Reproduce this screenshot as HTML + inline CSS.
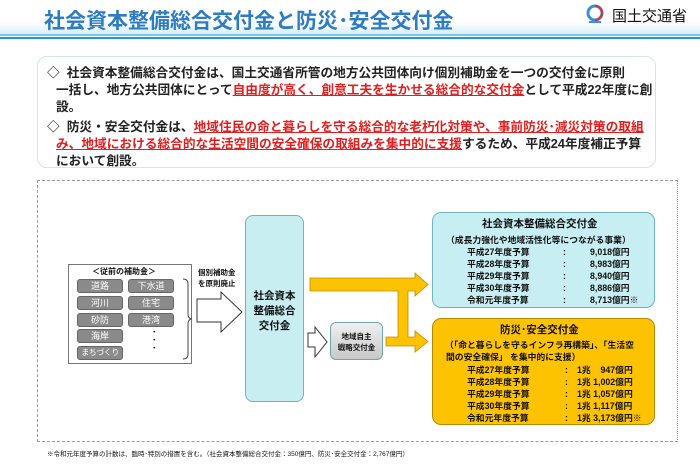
<!DOCTYPE html>
<html><head><meta charset="utf-8"><style>
*{margin:0;padding:0;box-sizing:border-box}
body{width:700px;height:465px;background:#fff;position:relative;overflow:hidden;font-family:"Liberation Sans","Noto Sans CJK JP",sans-serif;color:#111}
.a{position:absolute}
.band{left:0;top:22px;width:700px;height:12px;background:linear-gradient(#fff,#d6eef8)}
.l1{left:0;top:34px;width:700px;height:2px;background:#7cc6e6}
.l2{left:0;top:37px;width:700px;height:2px;background:#1a9ad6}
.title{left:44px;top:5px;font-size:21px;font-weight:bold;color:#2e7cc2;white-space:nowrap}
.logo{left:612px;top:5px;font-size:15px;white-space:nowrap}
.tb{left:37px;top:56px;width:619px;height:112px;border:1.5px solid #cfe6ee;border-radius:10px}
.tx{font-size:12.7px;line-height:17px;white-space:nowrap;font-weight:bold;color:#222}
.r{color:#e02020;text-decoration:underline}
.dash{left:37px;top:180px;width:641px;height:262px;border:1.5px dashed #999;border-right-style:dotted}
.old{left:68px;top:264px;width:124px;height:100px;border:1px solid #777;background:#fff}
.g{position:absolute;width:46px;height:14px;background:#8a8a8a;border:1px solid #666;border-radius:3px;color:#fff;font-size:9px;text-align:center;line-height:12px;white-space:nowrap;overflow:hidden}
.big{left:245px;top:215px;width:59px;height:187px;background:#c8eef2;border:1.5px solid #6fb3bd;border-radius:8px;font-size:10.5px;font-weight:bold;text-align:center;padding-top:73px;line-height:15px}
.loc{left:330px;top:322px;width:53px;height:38px;background:linear-gradient(#f0f0f0,#c8c8c8);border:1.5px solid #6fa5ad;border-radius:6px;font-size:7.5px;font-weight:bold;text-align:center;padding-top:8px;line-height:11px}
.bb{left:432px;top:212px;width:223px;height:96px;background:#c7eef2;border:1.5px solid #6fb3bd;border-radius:9px}
.yb{left:432px;top:318px;width:223px;height:107px;background:#fdc200;border:1.5px solid #b88a00;border-radius:9px}
.bt{font-size:8.8px;font-weight:bold;white-space:nowrap;line-height:12px}
</style></head><body>
<div class="a band"></div><div class="a l1"></div><div class="a l2"></div>
<div class="a title">社会資本整備総合交付金と防災･安全交付金</div>
<svg class="a" style="left:584px;top:4px" width="22" height="20"><circle cx="11" cy="9" r="7" fill="none" stroke="#3a8fd6" stroke-width="3"/><path d="M11 2 a7 7 0 0 1 0 14" fill="none" stroke="#e03030" stroke-width="2"/><rect x="5" y="17" width="12" height="2" fill="#3a8fd6"/></svg>
<div class="a logo">国土交通省</div>
<div class="a tb"></div>
<div class="a tx" style="left:47px;top:65px">◇&nbsp; 社会資本整備総合交付金は、国土交通省所管の地方公共団体向け個別補助金を一つの交付金に原則</div>
<div class="a tx" style="left:56px;top:82px">一括し、地方公共団体にとって<span class="r">自由度が高く、創意工夫を生かせる総合的な交付金</span>として平成22年度に創</div>
<div class="a tx" style="left:56px;top:99px">設。</div>
<div class="a tx" style="left:47px;top:119px">◇&nbsp; 防災・安全交付金は、<span class="r">地域住民の命と暮らしを守る総合的な老朽化対策や、事前防災･減災対策の取組</span></div>
<div class="a tx" style="left:56px;top:136px"><span class="r">み、地域における総合的な生活空間の安全確保の取組みを集中的に支援</span>するため、平成24年度補正予算</div>
<div class="a tx" style="left:56px;top:153px">において創設。</div>
<div class="a dash"></div>
<div class="a old"></div>
<div class="a" style="left:92px;top:266px;font-size:8px;font-weight:bold">＜従前の補助金＞</div>
<div class="g" style="left:77px;top:279px">道路</div><div class="g" style="left:128px;top:279px">下水道</div>
<div class="g" style="left:77px;top:296px">河川</div><div class="g" style="left:128px;top:296px">住宅</div>
<div class="g" style="left:77px;top:313px">砂防</div><div class="g" style="left:128px;top:313px">港湾</div>
<div class="g" style="left:77px;top:329px">海岸</div>
<div class="g" style="left:77px;top:346px;font-size:8px;letter-spacing:-0.5px">まちづくり</div>
<div class="a" style="left:152px;top:328px;font-size:9px;line-height:8px;font-weight:bold">･<br>･<br>･</div>
<svg class="a" style="left:0;top:0" width="700" height="465">
<path d="M183 279 q5 0 5 5 v30 q0 4 3 5 q-3 1 -3 5 v30 q0 5 -5 5" fill="none" stroke="#444" stroke-width="1"/>
<polygon points="197,299 221,299 221,292 242,312 221,332 221,322 197,322" fill="#fff" stroke="#333" stroke-width="1"/>
<polygon points="308,333 315,333 315,327 327,342 315,357 315,347 308,347" fill="#fff" stroke="#333" stroke-width="1"/>
<polygon points="310,278 415,278 415,273 428,284.5 415,296 415,291 408,291 408,337 415,337 415,331 428,341.5 415,352 415,346 386,346 386,337 398,337 398,291 310,291" fill="#fdc200" stroke="#c08c00" stroke-width="0.8"/>
</svg>
<div class="a" style="left:198px;top:267px;font-size:7.5px;line-height:11px;font-weight:bold">個別補助金<br>を原則廃止</div>
<div class="a big">社会資本<br>整備総合<br>交付金</div>
<div class="a loc">地域自主<br>戦略交付金</div>
<div class="a bb"></div>
<div class="a bt" style="left:482px;top:218px;font-size:10.5px">社会資本整備総合交付金</div>
<div class="a bt" style="left:446px;top:234px">（成長力強化や地域活性化等につながる事業）</div>
<div class="a bt" style="left:467px;top:246px">平成27年度予算<br>平成28年度予算<br>平成29年度予算<br>平成30年度予算<br>令和元年度予算</div>
<div class="a bt" style="left:563px;top:246px">:<br>:<br>:<br>:<br>:</div>
<div class="a bt" style="left:590px;top:246px">9,018億円<br>8,983億円<br>8,940億円<br>8,886億円<br>8,713億円※</div>
<div class="a yb"></div>
<div class="a bt" style="left:500px;top:324px;font-size:10.5px">防災･安全交付金</div>
<div class="a bt" style="left:445px;top:339px">（「命と暮らしを守るインフラ再構築」、「生活空</div>
<div class="a bt" style="left:446px;top:351px">間の安全確保」 を集中的に支援）</div>
<div class="a bt" style="left:467px;top:364px">平成27年度予算<br>平成28年度予算<br>平成29年度予算<br>平成30年度予算<br>令和元年度予算</div>
<div class="a bt" style="left:565px;top:364px">:<br>:<br>:<br>:<br>:</div>
<div class="a bt" style="left:577px;top:364px">1兆&nbsp;&nbsp;&nbsp;&nbsp;947億円<br>1兆 1,002億円<br>1兆 1,057億円<br>1兆 1,117億円<br>1兆 3,173億円※</div>
<div class="a" style="left:47px;top:448px;font-size:6.5px;white-space:nowrap">※令和元年度予算の計数は、臨時･特別の措置を含む。（社会資本整備総合交付金：350億円、防災･安全交付金：2,767億円）</div>
</body></html>
